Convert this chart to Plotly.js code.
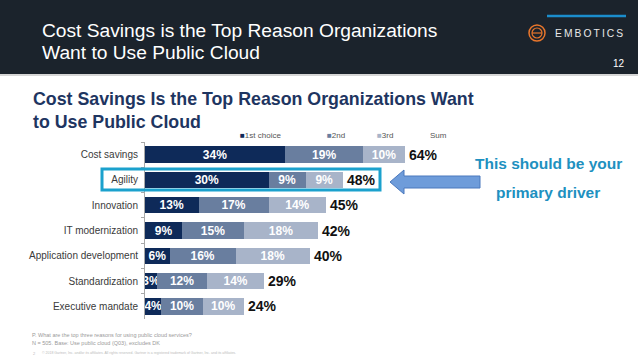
<!DOCTYPE html>
<html>
<head>
<meta charset="utf-8">
<script src="https://cdn.plot.ly/plotly-3.0.1.min.js"></script>
<style>
html,body{margin:0;padding:0;background:#fff;}
#chart{width:638px;height:359px;}
</style>
</head>
<body>
<div id="chart"></div>
<script>
// ---- data ----
const categories = ["Cost savings","Agility","Innovation","IT modernization","Application development","Standardization","Executive mandate"];
const firstChoice = [34, 30, 13, 9, 6, 3, 4];
const secondChoice = [19, 9, 17, 15, 16, 12, 10];
const thirdChoice = [10, 9, 14, 18, 18, 14, 10];
const sumLabels = [64, 48, 45, 42, 40, 29, 24];
const seriesNames = ["1st choice", "2nd", "3rd"];

// ---- geometry helpers (pixel -> paper) ----
const W = 638, H = 359, L = 145, T = 142, PW = 493, PH = 177;
const px = x => (x - L) / PW;
const py = y => (T + PH - y) / PH;

const FONT = "Liberation Sans, Arial, sans-serif";
const colors = ["#0e2a59", "#697e9f", "#a8b4c9"];

const traces = [firstChoice, secondChoice, thirdChoice].map((vals, i) => ({
  type: "bar",
  orientation: "h",
  name: seriesNames[i],
  y: categories,
  x: vals,
  marker: {color: colors[i], line: {width: 0}},
  texttemplate: "<b>%{x}%</b>",
  textposition: "inside",
  insidetextanchor: "middle",
  textangle: 0,
  constraintext: "none",
  textfont: {family: FONT, size: 12, color: "#ffffff"},
  hoverinfo: "skip"
}));

const annotations = [];
const shapes = [];

// header band
shapes.push({type: "rect", xref: "paper", yref: "paper", x0: px(0), x1: px(W), y0: py(74), y1: py(0),
  fillcolor: "#1b232c", line: {width: 0}, layer: "below"});
shapes.push({type: "rect", xref: "paper", yref: "paper", x0: px(0), x1: px(W), y0: py(76), y1: py(74),
  fillcolor: "#d6d6d6", line: {width: 0}, layer: "below"});
// logo accent line
shapes.push({type: "line", xref: "paper", yref: "paper", x0: px(547), x1: px(626), y0: py(16), y1: py(16),
  line: {color: "#1b8dcc", width: 2.5}});
// logo circle "e"
shapes.push({type: "circle", xref: "paper", yref: "paper", x0: px(529), x1: px(545), y0: py(41), y1: py(25),
  line: {color: "#e8762c", width: 1.5}});
shapes.push({type: "circle", xref: "paper", yref: "paper", x0: px(532), x1: px(542), y0: py(38), y1: py(28),
  line: {color: "#e8762c", width: 1.2}});
shapes.push({type: "line", xref: "paper", yref: "paper", x0: px(532), x1: px(542), y0: py(33), y1: py(33),
  line: {color: "#e8762c", width: 1.2}});

annotations.push({xref: "paper", yref: "paper", x: px(40), y: py(31), xanchor: "left", yanchor: "middle", showarrow: false,
  text: "Cost Savings is the Top Reason Organizations", font: {family: FONT, size: 19.2, color: "#ffffff"}});
annotations.push({xref: "paper", yref: "paper", x: px(40), y: py(52), xanchor: "left", yanchor: "middle", showarrow: false,
  text: "Want to Use Public Cloud", font: {family: FONT, size: 19.2, color: "#ffffff"}});
annotations.push({xref: "paper", yref: "paper", x: px(553), y: py(33), xanchor: "left", yanchor: "middle", showarrow: false,
  text: "E\u2009M\u2009B\u2009O\u2009T\u2009I\u2009C\u2009S", font: {family: FONT, size: 10.3, color: "#e8e8e8"}});
annotations.push({xref: "paper", yref: "paper", x: px(619), y: py(63), xanchor: "center", yanchor: "middle", showarrow: false,
  text: "12", font: {family: FONT, size: 10, color: "#ffffff"}});

// chart title
annotations.push({xref: "paper", yref: "paper", x: px(32), y: py(110.5), xanchor: "left", yanchor: "bottom", showarrow: false,
  borderpad: 0,
  text: "<b>Cost Savings Is the Top Reason Organizations Want</b>", font: {family: FONT, size: 17.8, color: "#1e3561"}});
annotations.push({xref: "paper", yref: "paper", x: px(32), y: py(110.5), xanchor: "left", yanchor: "top", showarrow: false,
  borderpad: 0,
  text: "<b>to Use Public Cloud</b>", font: {family: FONT, size: 17.8, color: "#1e3561"}});

// legend
const legendX = [238, 325, 375];
seriesNames.forEach((n, i) => {
  annotations.push({xref: "paper", yref: "paper", x: px(legendX[i]), y: py(135), xanchor: "left", yanchor: "middle", showarrow: false,
    text: '<span style="color:' + colors[i] + '">■</span>' + n, font: {family: FONT, size: 8, color: "#555555"}});
});
annotations.push({xref: "paper", yref: "paper", x: px(428), y: py(135), xanchor: "left", yanchor: "middle", showarrow: false,
  text: "Sum", font: {family: FONT, size: 8, color: "#555555"}});

// sum labels
categories.forEach((c, i) => {
  annotations.push({x: firstChoice[i] + secondChoice[i] + thirdChoice[i], y: c, xref: "x", yref: "y",
    xanchor: "left", yanchor: "middle", xshift: 2, showarrow: false,
    text: "<b>" + sumLabels[i] + "%</b>", font: {family: FONT, size: 14, color: "#111111"}});
});

// highlight box around Agility
shapes.push({type: "rect", xref: "paper", yref: "paper", x0: px(102), x1: px(380), y0: py(190), y1: py(169),
  line: {color: "#1ba1cd", width: 3}, fillcolor: "rgba(0,0,0,0)"});

// arrow
const ap = [[390,182],[404,170],[404,176],[480,176],[480,188],[404,188],[404,194]];
shapes.push({type: "path", xref: "paper", yref: "paper",
  path: "M " + ap.map(p => px(p[0]) + "," + py(p[1])).join(" L ") + " Z",
  fillcolor: "#6e9cda", line: {color: "#4a78bd", width: 1}});

annotations.push({xref: "paper", yref: "paper", x: px(548), y: py(163), xanchor: "center", yanchor: "middle", showarrow: false,
  text: "<b>This should be your</b>", font: {family: FONT, size: 15.5, color: "#2090c0"}});
annotations.push({xref: "paper", yref: "paper", x: px(548), y: py(192), xanchor: "center", yanchor: "middle", showarrow: false,
  text: "<b>primary driver</b>", font: {family: FONT, size: 15.5, color: "#2090c0"}});

// footnotes
annotations.push({xref: "paper", yref: "paper", x: px(30), y: py(335), xanchor: "left", yanchor: "middle", showarrow: false,
  text: "P. What are the top three reasons for using public cloud services?", font: {family: FONT, size: 5.5, color: "#9a9a9a"}});
annotations.push({xref: "paper", yref: "paper", x: px(30), y: py(343), xanchor: "left", yanchor: "middle", showarrow: false,
  text: "N = 505. Base: Use public cloud (Q03), excludes DK", font: {family: FONT, size: 5.5, color: "#9a9a9a"}});
annotations.push({xref: "paper", yref: "paper", x: px(31), y: py(353), xanchor: "left", yanchor: "middle", showarrow: false,
  text: "2", font: {family: FONT, size: 4, color: "#bbbbbb"}});
annotations.push({xref: "paper", yref: "paper", x: px(40), y: py(353), xanchor: "left", yanchor: "middle", showarrow: false,
  text: "© 2018 Gartner, Inc. and/or its affiliates. All rights reserved. Gartner is a registered trademark of Gartner, Inc. and its affiliates.",
  font: {family: FONT, size: 3.5, color: "#bbbbbb"}});

const layout = {
  width: W, height: H,
  margin: {l: L, r: W - L - PW, t: T, b: H - T - PH, pad: 0},
  paper_bgcolor: "#ffffff",
  plot_bgcolor: "rgba(0,0,0,0)",
  barmode: "stack",
  bargap: 0.35,
  showlegend: false,
  hovermode: false,
  xaxis: {range: [0, PW / 4.12], visible: false, showgrid: false, zeroline: false, fixedrange: true},
  yaxis: {
    type: "category", range: [6.5, -0.5], autorange: false,
    showline: true, linecolor: "#a8a8a8", linewidth: 1,
    ticks: "outside", ticklen: 3, tickcolor: "#a8a8a8", tickson: "boundaries",
    ticklabelstandoff: 4,
    tickfont: {family: FONT, size: 10, color: "#3a3a3a"},
    showgrid: false, zeroline: false, fixedrange: true
  },
  shapes: shapes,
  annotations: annotations,
  font: {family: FONT}
};

Plotly.newPlot("chart", traces, layout, {staticPlot: true, displayModeBar: false});
</script>
</body>
</html>
